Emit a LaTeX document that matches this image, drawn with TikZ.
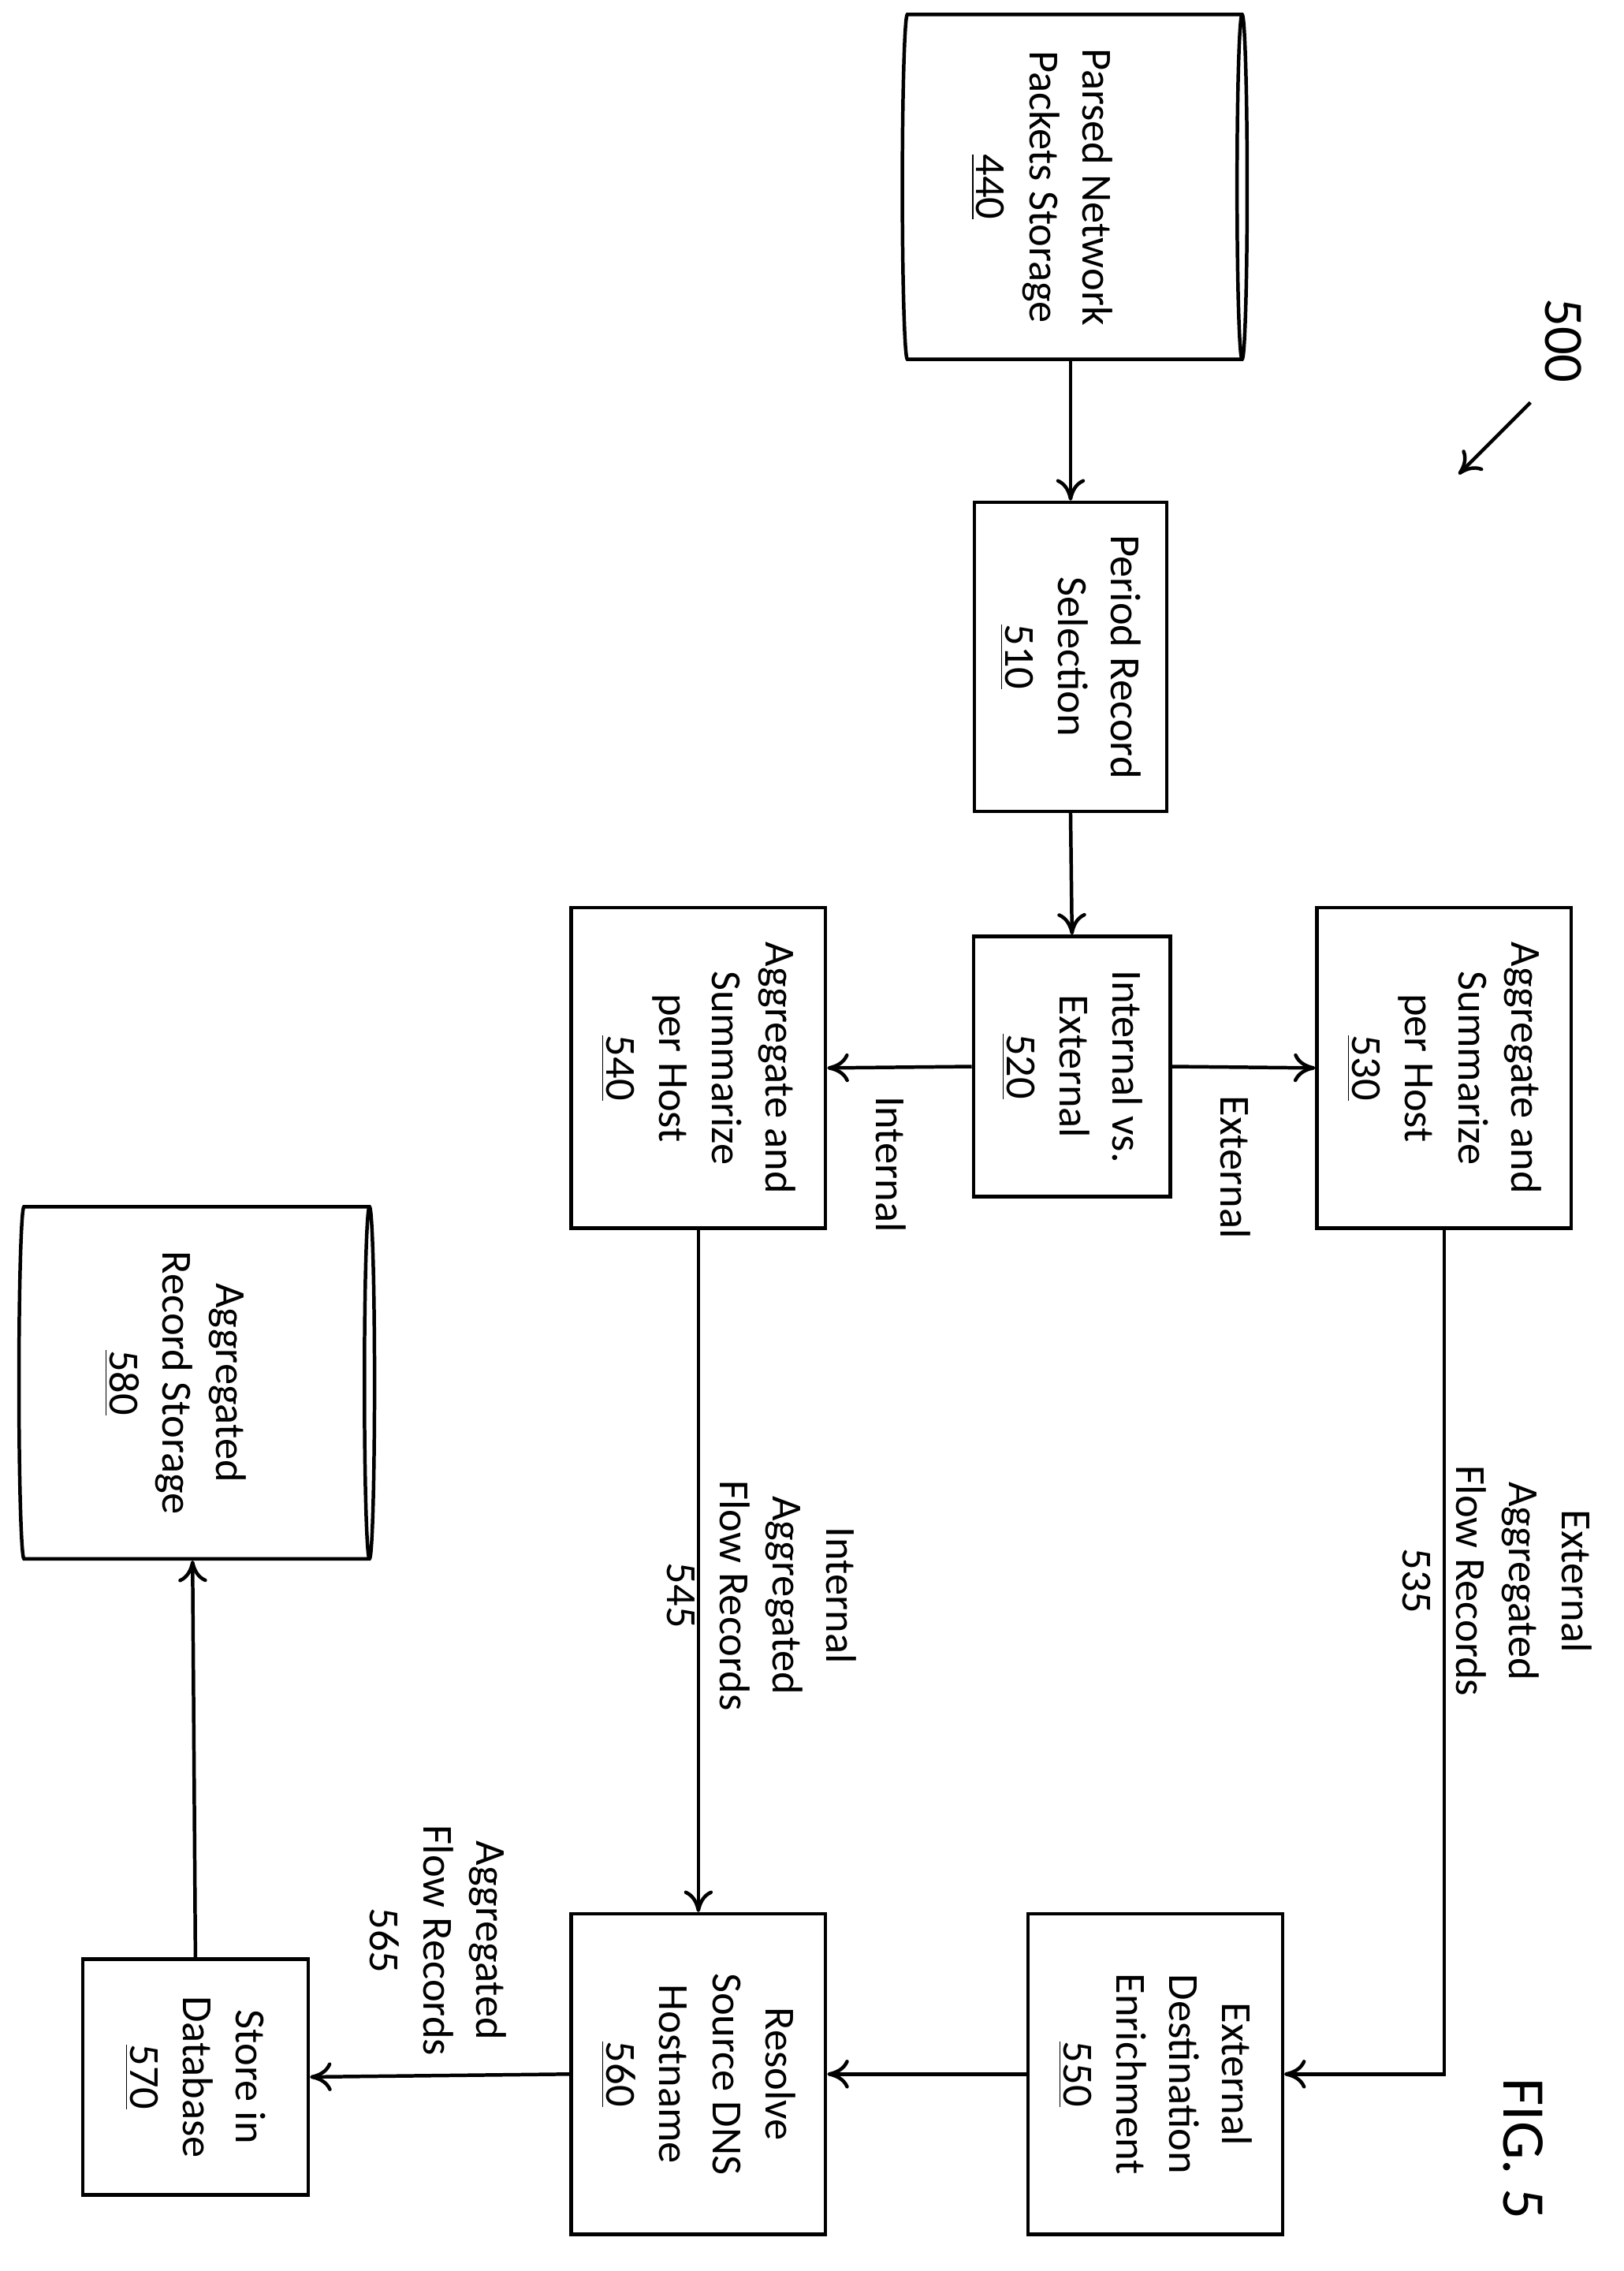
\documentclass[tikz,border=0pt]{standalone}
\usepackage{fontspec}
\setmainfont{Carlito}
\usetikzlibrary{arrows.meta,shapes.geometric}

\begin{document}
\begin{tikzpicture}[x=0.02cm,y=-0.02cm,line width=1.4pt]
        \tikzstyle{stage}=[rectangle,draw,rotate=-90,align=center,font=\fontsize{17}{21}\selectfont]
        \tikzstyle{tag}=[rotate=-90,align=center,font=\fontsize{17}{21}\selectfont]
        \tikzstyle{store}=[cylinder,draw,aspect=0.6,minimum width=4.8cm,minimum height=4.8cm]
        \tikzstyle{flow}=[-{To[length=3mm,width=4mm]}]
        \useasboundingbox (0,0) rectangle (1130,1580);
        % storages
        \node [store] (n440) at (745,130) {};
        \node [tag] (t440) at (725,130) {Parsed Network\\Packets Storage\\\underline{440}};
        \node [store,minimum width=4.9cm,minimum height=4.95cm] (n580) at (134,962) {};
        \node [tag] (t580) at (122,962) {Aggregated\\Record Storage\\\underline{580}};
        % stages
        \node [stage,minimum width=4.3cm,minimum height=2.68cm] (n510) at (745,457) {Period Record\\Selection\\\underline{510}};
        \node [stage,minimum width=3.62cm,minimum height=2.74cm] (n520) at (746,742) {Internal vs.\\External\\\underline{520}};
        \node [stage,minimum width=4.46cm,minimum height=3.54cm] (n530) at (1005,743) {Aggregate and\\Summarize\\per Host\\\underline{530}};
        \node [stage,minimum width=4.46cm,minimum height=3.54cm] (n540) at (486,743) {Aggregate and\\Summarize\\per Host\\\underline{540}};
        \node [stage,minimum width=4.46cm,minimum height=3.54cm] (n550) at (804,1443) {External\\Destination\\Enrichment\\\underline{550}};
        \node [stage,minimum width=4.46cm,minimum height=3.54cm] (n560) at (486,1443) {Resolve\\Source DNS\\Hostname\\\underline{560}};
        \node [stage,minimum width=3.28cm,minimum height=3.14cm] (n570) at (136,1445) {Store in\\Database\\\underline{570}};
        % connectors
        \draw [flow] (n440.south) -- (n510.west);
        \draw [flow] (n510.east) -- (n520.west);
        \draw [flow] (n520.north) -- (n530.south);
        \draw [flow] (n520.south) -- (n540.north);
        \draw [flow] (n530.east) |- (n550.north);
        \draw [flow] (n540.east) -- (n560.west);
        \draw [flow] (n550.south) -- (n560.north);
        \draw [flow] (n560.south) -- (n570.north);
        \draw [flow] (n570.west) -- (n580.south);
        % labels
        \node [tag] (lext) at (860,812) {External};
        \node [tag] (lint) at (620,810) {Internal};
        \node [tag] (l535) at (1042,1100) {External\\Aggregated\\Flow Records\\535};
        \node [tag] (l545) at (530,1110) {Internal\\Aggregated\\Flow Records\\545};
        \node [tag] (l565) at (305,1350) {Aggregated\\Flow Records\\565};
        \node [tag,font=\fontsize{22}{26}\selectfont] (l500) at (1088,237) {500};
        \coordinate (a500) at (1065,280);
        \coordinate (b500) at (1015,330);
        \draw [flow] (a500) -- (b500);
        \node [tag,font=\fontsize{24}{28}\selectfont] (fig) at (1060,1495) {FIG. 5};
    \end{tikzpicture}
\end{document}
